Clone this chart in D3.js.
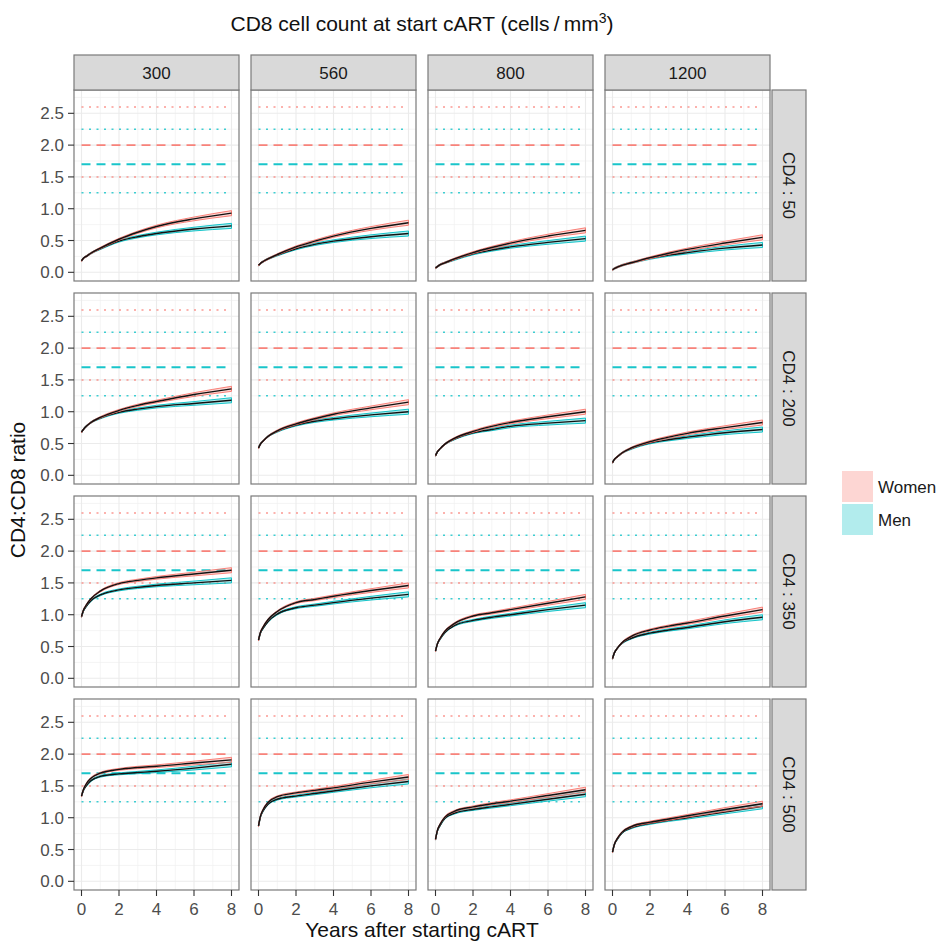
<!DOCTYPE html>
<html>
<head>
<meta charset="utf-8">
<script src="https://cdn.jsdelivr.net/npm/d3@7"></script>
<style>
  body { margin: 0; background: #fff; }
  text { font-family: "Liberation Sans", Arial, sans-serif; }
</style>
</head>
<body>
<svg id="chart" width="944" height="946"></svg>
<script>
// facet levels
var cd8Levels = ['300', '560', '800', '1200'];
var cd4Levels = ['50', '200', '350', '500'];
var sexLevels = ['Women', 'Men'];

// years after starting cART at which the curves were read
var years = [0, 0.1, 0.25, 0.5, 1, 2, 3, 4, 6, 8];

// CD4:CD8 ratio, one row per CD8 level (300, 560, 800, 1200)
var women50 = [
  [0.18, 0.22, 0.25, 0.30, 0.38, 0.52, 0.63, 0.72, 0.84, 0.93],
  [0.11, 0.14, 0.17, 0.21, 0.28, 0.40, 0.49, 0.57, 0.69, 0.78],
  [0.07, 0.09, 0.12, 0.15, 0.21, 0.31, 0.39, 0.46, 0.57, 0.66],
  [0.04, 0.06, 0.08, 0.11, 0.15, 0.23, 0.30, 0.36, 0.46, 0.55]
];
var men50 = [
  [0.18, 0.22, 0.25, 0.30, 0.37, 0.49, 0.56, 0.61, 0.68, 0.73],
  [0.11, 0.14, 0.17, 0.21, 0.27, 0.37, 0.44, 0.49, 0.56, 0.61],
  [0.07, 0.09, 0.12, 0.15, 0.20, 0.29, 0.35, 0.40, 0.47, 0.53],
  [0.04, 0.06, 0.08, 0.11, 0.15, 0.22, 0.27, 0.31, 0.38, 0.43]
];
var women200 = [
  [0.68, 0.72, 0.77, 0.83, 0.91, 1.02, 1.10, 1.16, 1.27, 1.36],
  [0.43, 0.49, 0.54, 0.61, 0.70, 0.81, 0.89, 0.96, 1.06, 1.15],
  [0.31, 0.37, 0.42, 0.49, 0.58, 0.69, 0.77, 0.83, 0.92, 1.00],
  [0.20, 0.25, 0.29, 0.35, 0.43, 0.53, 0.60, 0.66, 0.75, 0.83]
];
var men200 = [
  [0.68, 0.72, 0.77, 0.83, 0.90, 0.99, 1.04, 1.08, 1.13, 1.18],
  [0.43, 0.49, 0.54, 0.61, 0.69, 0.79, 0.85, 0.89, 0.95, 1.00],
  [0.31, 0.37, 0.42, 0.49, 0.57, 0.67, 0.72, 0.77, 0.82, 0.86],
  [0.20, 0.25, 0.29, 0.35, 0.42, 0.51, 0.56, 0.60, 0.67, 0.72]
];
var women350 = [
  [0.97, 1.07, 1.15, 1.25, 1.37, 1.49, 1.54, 1.58, 1.64, 1.70],
  [0.60, 0.72, 0.81, 0.92, 1.05, 1.19, 1.24, 1.29, 1.38, 1.46],
  [0.43, 0.54, 0.63, 0.74, 0.86, 0.98, 1.03, 1.08, 1.18, 1.28],
  [0.31, 0.40, 0.47, 0.56, 0.66, 0.76, 0.82, 0.87, 0.98, 1.08]
];
var men350 = [
  [0.97, 1.06, 1.13, 1.22, 1.31, 1.39, 1.43, 1.46, 1.50, 1.54],
  [0.60, 0.71, 0.79, 0.89, 1.01, 1.11, 1.15, 1.19, 1.26, 1.32],
  [0.43, 0.54, 0.62, 0.72, 0.83, 0.91, 0.96, 1.00, 1.08, 1.15],
  [0.31, 0.40, 0.47, 0.55, 0.63, 0.71, 0.76, 0.80, 0.89, 0.96]
];
var women500 = [
  [1.34, 1.44, 1.53, 1.62, 1.70, 1.76, 1.79, 1.81, 1.86, 1.91],
  [0.87, 1.02, 1.13, 1.24, 1.33, 1.39, 1.43, 1.47, 1.56, 1.64],
  [0.66, 0.80, 0.90, 1.01, 1.10, 1.17, 1.22, 1.26, 1.35, 1.44],
  [0.46, 0.58, 0.67, 0.77, 0.86, 0.93, 0.98, 1.03, 1.13, 1.22]
];
var men500 = [
  [1.34, 1.43, 1.50, 1.58, 1.65, 1.69, 1.71, 1.73, 1.78, 1.84],
  [0.87, 1.01, 1.11, 1.21, 1.29, 1.34, 1.38, 1.42, 1.50, 1.57],
  [0.66, 0.79, 0.88, 0.99, 1.07, 1.13, 1.17, 1.21, 1.29, 1.37],
  [0.46, 0.58, 0.66, 0.76, 0.84, 0.91, 0.96, 1.00, 1.09, 1.18]
];
// half width of the confidence band at each year
var bandHalf = [0.012, 0.012, 0.012, 0.012, 0.013, 0.015, 0.018, 0.021, 0.029, 0.04];

// reference lines (healthy population quantiles)
var refValues = [2.6, 2.25, 2.0, 1.7, 1.5, 1.25];
var refSex = ['Women', 'Men', 'Women', 'Men', 'Women', 'Men'];
var refStyle = ['dotted', 'dotted', 'dashed', 'dashed', 'dotted', 'dotted'];

var xTicks = [0, 2, 4, 6, 8];
var xMinor = [1, 3, 5, 7];
var yTicks = [0, 0.5, 1.0, 1.5, 2.0, 2.5];
var yMinor = [0.25, 0.75, 1.25, 1.75, 2.25, 2.75];

var womenByRow = [women50, women200, women350, women500];
var menByRow = [men50, men200, men350, men500];
var color = d3.scaleOrdinal().domain(sexLevels).range(['#F8766D', '#00BFC4']);

// layout
var svg = d3.select('#chart'),
    panelW = 165, panelH = 191,
    left0 = 74, top0 = 90,
    stepX = 177, stepY = 203,
    stripH = 35, stripW = 34;

var x = d3.scaleLinear().domain([-0.4, 8.4]).range([0, panelW]);
var y = d3.scaleLinear().domain([-0.1365, 2.8665]).range([panelH, 0]);

var line = d3.line().x(function(d) { return x(d.t); }).y(function(d) { return y(d.v); })
    .curve(d3.curveMonotoneX);
var band = d3.area().x(function(d) { return x(d.t); })
    .y0(function(d) { return y(d.v - d.b); }).y1(function(d) { return y(d.v + d.b); })
    .curve(d3.curveMonotoneX);

cd4Levels.forEach(function(cd4, r) {
  cd8Levels.forEach(function(cd8, c) {
    var g = svg.append('g')
        .attr('transform', 'translate(' + (left0 + c * stepX) + ',' + (top0 + r * stepY) + ')');

    g.append('rect').attr('width', panelW).attr('height', panelH).attr('fill', '#fff');

    // grid
    g.selectAll('.ymin').data(yMinor).enter().append('line')
        .attr('x1', 0).attr('x2', panelW)
        .attr('y1', function(d) { return y(d); }).attr('y2', function(d) { return y(d); })
        .attr('stroke', '#F0F0F0').attr('stroke-width', 0.7);
    g.selectAll('.xmin').data(xMinor).enter().append('line')
        .attr('y1', 0).attr('y2', panelH)
        .attr('x1', function(d) { return x(d); }).attr('x2', function(d) { return x(d); })
        .attr('stroke', '#F0F0F0').attr('stroke-width', 0.7);
    g.selectAll('.ymaj').data(yTicks).enter().append('line')
        .attr('x1', 0).attr('x2', panelW)
        .attr('y1', function(d) { return y(d); }).attr('y2', function(d) { return y(d); })
        .attr('stroke', '#EBEBEB').attr('stroke-width', 1.1);
    g.selectAll('.xmaj').data(xTicks).enter().append('line')
        .attr('y1', 0).attr('y2', panelH)
        .attr('x1', function(d) { return x(d); }).attr('x2', function(d) { return x(d); })
        .attr('stroke', '#EBEBEB').attr('stroke-width', 1.1);

    // reference lines
    refValues.forEach(function(v, i) {
      g.append('line')
          .attr('x1', x(0)).attr('x2', x(8))
          .attr('y1', y(v)).attr('y2', y(v))
          .attr('stroke', color(refSex[i]))
          .attr('stroke-opacity', refStyle[i] == 'dashed' ? 0.9 : 0.75)
          .attr('stroke-width', refStyle[i] == 'dashed' ? 1.9 : 1.5)
          .attr('stroke-dasharray', refStyle[i] == 'dashed' ? '9,6' : '2,5.5');
    });

    // curves: men first, women on top
    [menByRow[r][c], womenByRow[r][c]].forEach(function(vals, k) {
      var sex = k == 0 ? 'Men' : 'Women';
      var pts = years.map(function(t, i) { return {t: t, v: vals[i], b: bandHalf[i]}; });
      g.append('path').attr('d', band(pts))
          .attr('fill', color(sex)).attr('fill-opacity', 0.3)
          .attr('stroke', color(sex)).attr('stroke-width', 1).attr('stroke-opacity', 0.9);
      g.append('path').attr('d', line(pts))
          .attr('fill', 'none').attr('stroke', '#111').attr('stroke-width', 1.4);
    });

    g.append('rect').attr('width', panelW).attr('height', panelH)
        .attr('fill', 'none').attr('stroke', '#7a7a7a').attr('stroke-width', 1.2);

    // y axis on first column
    if (c == 0) {
      g.selectAll('.ytick').data(yTicks).enter().append('line')
          .attr('x1', -6).attr('x2', 0)
          .attr('y1', function(d) { return y(d); }).attr('y2', function(d) { return y(d); })
          .attr('stroke', '#333').attr('stroke-width', 1.1);
      g.selectAll('.ylab').data(yTicks).enter().append('text')
          .attr('x', -10).attr('y', function(d) { return y(d); })
          .attr('dy', '0.36em').attr('text-anchor', 'end')
          .attr('font-size', 17).attr('fill', '#4D4D4D')
          .text(function(d) { return d3.format('.1f')(d); });
    }
    // x axis on last row
    if (r == cd4Levels.length - 1) {
      g.selectAll('.xtick').data(xTicks).enter().append('line')
          .attr('y1', panelH).attr('y2', panelH + 6)
          .attr('x1', function(d) { return x(d); }).attr('x2', function(d) { return x(d); })
          .attr('stroke', '#333').attr('stroke-width', 1.1);
      g.selectAll('.xlab').data(xTicks).enter().append('text')
          .attr('x', function(d) { return x(d); }).attr('y', panelH + 25)
          .attr('text-anchor', 'middle')
          .attr('font-size', 17).attr('fill', '#4D4D4D')
          .text(function(d) { return d; });
    }
  });
});

// top strips
cd8Levels.forEach(function(cd8, c) {
  var sx = left0 + c * stepX;
  svg.append('rect').attr('x', sx).attr('y', top0 - stripH)
      .attr('width', panelW).attr('height', stripH)
      .attr('fill', '#D9D9D9').attr('stroke', '#7a7a7a').attr('stroke-width', 1.2);
  svg.append('text').attr('x', sx + panelW / 2).attr('y', top0 - stripH / 2)
      .attr('dy', '0.36em').attr('text-anchor', 'middle')
      .attr('font-size', 17).attr('fill', '#1A1A1A').text(cd8);
});

// right strips
cd4Levels.forEach(function(cd4, r) {
  var sx = left0 + 3 * stepX + panelW + 2,
      sy = top0 + r * stepY;
  svg.append('rect').attr('x', sx).attr('y', sy)
      .attr('width', stripW).attr('height', panelH)
      .attr('fill', '#D9D9D9').attr('stroke', '#7a7a7a').attr('stroke-width', 1.2);
  svg.append('text')
      .attr('transform', 'translate(' + (sx + stripW / 2) + ',' + (sy + panelH / 2) + ') rotate(90)')
      .attr('dy', '0.36em').attr('text-anchor', 'middle')
      .attr('font-size', 17).attr('fill', '#1A1A1A').text('CD4 : ' + cd4);
});

// titles
var midX = left0 + (3 * stepX + panelW) / 2;
var title = svg.append('text').attr('x', midX).attr('y', 31)
    .attr('text-anchor', 'middle').attr('font-size', 21).attr('fill', '#111');
title.append('tspan').text('CD8 cell count at start cART (cells\u2009/\u2009mm');
title.append('tspan').attr('dy', -8).attr('font-size', 14).text('3');
title.append('tspan').attr('dy', 8).text(')');

svg.append('text').attr('x', midX).attr('y', 937)
    .attr('text-anchor', 'middle').attr('font-size', 21).attr('fill', '#111')
    .text('Years after starting cART');

svg.append('text')
    .attr('transform', 'translate(25,' + (top0 + (3 * stepY + panelH) / 2) + ') rotate(-90)')
    .attr('text-anchor', 'middle').attr('font-size', 21).attr('fill', '#111')
    .text('CD4:CD8 ratio');

// legend
var legend = svg.append('g').attr('transform', 'translate(842,471)');
sexLevels.forEach(function(s, i) {
  legend.append('rect').attr('x', 0).attr('y', i * 33)
      .attr('width', 31).attr('height', 31)
      .attr('fill', color(s)).attr('fill-opacity', 0.3);
  legend.append('text').attr('x', 36).attr('y', i * 33 + 15.5)
      .attr('dy', '0.36em').attr('font-size', 17).attr('fill', '#1A1A1A').text(s);
});
</script>
</body>
</html>
